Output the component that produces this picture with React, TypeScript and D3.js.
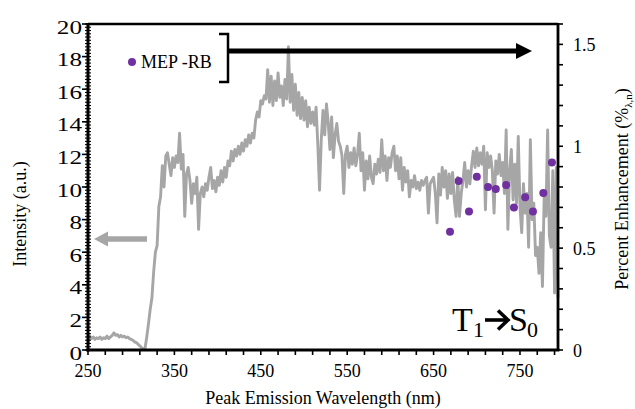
import React from "react";
import * as d3 from "d3";

// ---- Data ----
const WAVELENGTH_START = 250;
const WAVELENGTH_STEP = 2;
// Emission intensity (a.u.), read every 2 nm from 250 nm to 794 nm
const intensity = [
  0.45, 0.85, 0.7, 0.8, 0.65, 0.75, 0.7, 0.8, 0.65, 0.75,
  0.7, 0.85, 0.7, 0.8, 0.9, 1.05, 0.9, 0.95, 0.8, 0.9,
  0.8, 0.85, 0.75, 0.8, 0.7, 0.65, 0.6, 0.5, 0.45, 0.35,
  0.25, 0.15, 0.05, 0.1, 0.8, 1.6, 2.5, 3.2, 4.8, 6.0,
  6.4, 8.8, 9.4, 11.3, 10.0, 11.9, 12.1, 11.4, 10.7, 11.8,
  11.2, 11.9, 11.5, 13.3, 11.1, 12.0, 8.2, 10.8, 11.2, 10.4,
  9.0, 10.2, 9.6, 10.6, 7.4, 9.6, 10.0, 9.4, 10.2, 9.8,
  10.6, 11.2, 9.9, 10.4, 9.7, 10.6, 10.1, 11.0, 10.3, 11.2,
  10.6, 11.6, 11.3, 12.2, 11.6, 12.3, 11.9, 12.5, 12.0, 12.7,
  12.2, 12.9, 12.5, 13.2, 12.7, 13.3, 13.0, 14.1, 14.6, 14.3,
  15.3, 15.1, 15.6, 15.4, 17.2, 15.2, 16.8, 15.0, 16.5, 15.3,
  17.0, 15.5, 16.2, 15.0, 16.6, 15.4, 18.6, 15.2, 16.9, 14.7,
  16.3, 14.4, 15.8, 14.2, 15.5, 14.1, 15.3, 13.7, 14.9, 13.9,
  14.6, 13.8, 14.9, 12.6, 9.8, 12.9, 14.7, 13.2, 15.1, 14.0,
  12.3, 14.3, 11.8, 13.2, 13.9, 12.8, 12.5, 11.9, 9.6, 12.0,
  12.5, 11.2, 12.1, 11.4, 12.4, 11.3, 12.0, 13.3, 11.0, 12.1,
  9.8, 11.6, 10.5, 11.9, 10.6, 10.2, 11.4, 10.8, 11.7, 10.9,
  12.9, 11.0, 11.9, 10.4, 11.8, 11.2, 12.1, 12.5, 11.0, 11.9,
  10.5, 11.8, 9.8, 11.2, 10.3, 11.0, 9.4, 10.4, 10.0, 10.7,
  9.9, 10.3, 9.8, 10.4, 10.1, 10.4, 10.6, 8.4, 10.2, 10.4,
  10.6, 9.6, 7.8, 10.8, 9.5, 11.2, 10.0, 11.0, 9.3, 10.8,
  9.6, 10.9, 9.2, 8.2, 10.6, 8.2, 9.6, 10.4, 11.5, 10.0,
  11.0, 10.2, 11.3, 12.2, 11.2, 12.4, 11.3, 12.1, 11.4, 12.5,
  8.6, 12.1, 11.2, 11.9, 11.0, 8.4, 11.6, 10.8, 12.0, 10.7,
  11.5, 9.6, 13.5, 7.4, 11.0, 12.3, 9.2, 11.4, 9.0, 13.1,
  8.8, 7.2, 10.2, 8.4, 9.6, 6.3, 12.9, 8.0, 9.0, 5.8,
  6.3, 4.7, 7.2, 3.9, 9.4, 8.2, 13.5, 7.0, 6.3, 11.0,
  3.5, 11.2, 3.2,
];

// MEP-RB percent enhancement points
const mepWavelength = [669, 679, 691, 700, 713, 722, 734, 743, 756, 765, 777, 787];
const mepEnhancement = [0.58, 0.83, 0.68, 0.85, 0.8, 0.79, 0.81, 0.7, 0.75, 0.68, 0.77, 0.92];

const xTicksMajor = [250, 350, 450, 550, 650, 750];
const yLeftTicks = [0, 2, 4, 6, 8, 10, 12, 14, 16, 18, 20];
const yRightTicks = [0, 0.5, 1, 1.5];
const yRightTickLabels = ["0", "0.5", "1", "1.5"];

const W = 635;
const H = 409;
const PL = 88, PR = 558, PT = 24, PB = 350;
const FONT = "'Liberation Serif', 'Times New Roman', Times, serif";
const GRAY = "#A6A6A6";
const PURPLE = "#7030A0";

export default function App() {
  const x = d3.scaleLinear().domain([250, 794]).range([PL, PR]);
  const yL = d3.scaleLinear().domain([0, 20]).range([PB, PT]);
  const yR = d3.scaleLinear().domain([0, 1.6]).range([PB, PT]);

  const spectrum = intensity.map((v, i) => [WAVELENGTH_START + i * WAVELENGTH_STEP, v] as [number, number]);
  const linePath = d3
    .line<[number, number]>()
    .x((d) => x(d[0]))
    .y((d) => yL(d[1]))(spectrum) as string;

  const xMinor = d3.range(250, 795, 20);
  const yLeftMinor = d3.range(0, 20.001, 0.2);
  const yRightMinor = d3.range(0, 1.6001, 0.1);

  return (
    <div style={{ position: "absolute", left: 0, top: 0 }}>
      <svg width={W} height={H} style={{ display: "block", background: "#fff" }} fontFamily={FONT}>
        <rect x={0} y={0} width={W} height={H} fill="#fff" />

        {/* spectrum */}
        <path d={linePath} fill="none" stroke={GRAY} strokeWidth={2.9} strokeLinejoin="round" />

        {/* MEP-RB points */}
        {mepWavelength.map((w, i) => (
          <circle key={i} cx={x(w)} cy={yR(mepEnhancement[i])} r={4} fill={PURPLE} />
        ))}

        {/* frame */}
        <line x1={PL} x2={PR} y1={PT} y2={PT} stroke="#000" strokeWidth={2.5} />
        <line x1={PR} x2={PR} y1={PT - 1} y2={PB + 1} stroke="#000" strokeWidth={2.8} />
        <line x1={PL} x2={PL} y1={PT - 1} y2={PB + 1.5} stroke="#000" strokeWidth={3} />
        <line x1={PL - 1.5} x2={PR + 1.4} y1={PB} y2={PB} stroke="#000" strokeWidth={3} />

        {/* bottom ticks */}
        {xMinor.map((t) => (
          <line key={"xt" + t} x1={x(t)} x2={x(t)} y1={PB} y2={PB + 5} stroke="#000" strokeWidth={1.6} />
        ))}
        {xTicksMajor.map((t) => (
          <text key={"xl" + t} x={x(t)} y={377} fontSize={18} textAnchor="middle" fill="#000">
            {t}
          </text>
        ))}

        {/* left ticks */}
        {yLeftMinor.map((t, i) => (
          <line key={"ylm" + i} x1={PL - 3} x2={PL + 3} y1={yL(t)} y2={yL(t)} stroke="#000" strokeWidth={1.1} />
        ))}
        {yLeftTicks.map((t) => (
          <line key={"ylt" + t} x1={PL - 6} x2={PL} y1={yL(t)} y2={yL(t)} stroke="#000" strokeWidth={1.6} />
        ))}
        {yLeftTicks.map((t) => (
          <text
            key={"yll" + t}
            transform={`translate(82,${yL(t) + 9.5}) scale(1.4,1)`}
            fontSize={18}
            textAnchor="end"
            fill="#000"
          >
            {t}
          </text>
        ))}

        {/* right ticks */}
        {yRightMinor.map((t, i) => (
          <line key={"yrt" + i} x1={PR} x2={PR + 5} y1={yR(t)} y2={yR(t)} stroke="#000" strokeWidth={1.6} />
        ))}
        {yRightTicks.map((t, i) => (
          <text key={"yrl" + i} x={573} y={yR(t) + 7} fontSize={18} textAnchor="start" fill="#000">
            {yRightTickLabels[i]}
          </text>
        ))}

        {/* axis titles */}
        <text x={(PL + PR) / 2} y={404} fontSize={18} textAnchor="middle" fill="#000">
          Peak Emission Wavelength (nm)
        </text>
        <text transform="translate(26,214) rotate(-90)" fontSize={18} textAnchor="middle" fill="#000">
          Intensity (a.u.)
        </text>
        <text transform="translate(628,189) rotate(-90)" fontSize={18} textAnchor="middle" fill="#000">
          Percent Enhancement (%
          <tspan fontSize={11} dy={4}>λ,n</tspan>
          <tspan dy={-4}>)</tspan>
        </text>

        {/* legend */}
        <circle cx={132} cy={62} r={4} fill={PURPLE} />
        <text x={141} y={68} fontSize={18} fill="#000">
          MEP -RB
        </text>

        {/* bracket + black arrow to the right */}
        <path d="M219,34 H228 V82 H219" fill="none" stroke="#000" strokeWidth={2.5} />
        <line x1={228} x2={518} y1={51} y2={51} stroke="#000" strokeWidth={5} />
        <path d="M516,43 L532,51 L516,59 Z" fill="#000" />

        {/* gray arrow to the left axis */}
        <line x1={105} x2={147} y1={239} y2={239} stroke={GRAY} strokeWidth={5.5} />
        <path d="M108,231.5 L94,239 L108,246.5 Z" fill={GRAY} />

        {/* T1 -> S0 label */}
        <text x={452} y={331} fontSize={34} fill="#000">T</text>
        <text x={473} y={337} fontSize={22} fill="#000">1</text>
        <path d="M485,320 H507" stroke="#000" strokeWidth={3.6} fill="none" />
        <path d="M498,310.5 L508,320 L498,329.5" stroke="#000" strokeWidth={3.6} fill="none" strokeLinejoin="miter" />
        <text x={509} y={331} fontSize={34} fill="#000">S</text>
        <text x={527} y={337} fontSize={22} fill="#000">0</text>
      </svg>
    </div>
  );
}
